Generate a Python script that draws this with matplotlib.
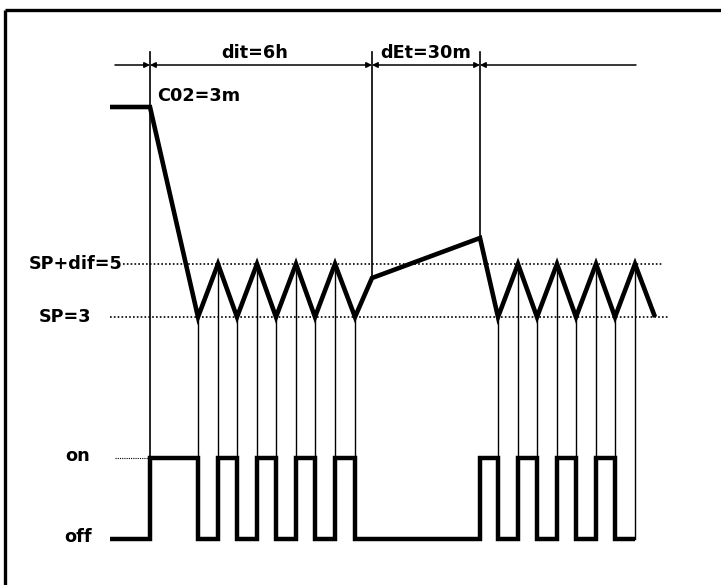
import matplotlib
matplotlib.use("Agg")
import matplotlib.pyplot as plt

# ---- data (schematic, in picture units: x = time position, y = level position) ----
# temperature trace vertices
temp_x = [110, 150, 198, 218, 237, 257, 276, 296, 315, 335, 355, 372, 480, 498, 518, 537, 557, 576, 596, 615, 635, 655]
temp_y = [107, 107, 317, 264, 317, 264, 317, 264, 317, 264, 317, 278, 238, 317, 264, 317, 264, 317, 264, 317, 264, 317]

# compressor state: switching times and states (1 = on, 0 = off)
switch_x = [110, 150, 198, 218, 237, 257, 276, 296, 315, 335, 355, 480, 498, 518, 537, 557, 576, 596, 615, 635]
switch_state = [0, 1, 0, 1, 0, 1, 0, 1, 0, 1, 0, 1, 0, 1, 0, 1, 0, 1, 0, 0]
y_on, y_off = 458, 539

# reference levels
y_spdif, y_sp = 264, 317
spdif_span = (123, 663)
sp_span = (110, 668)

# timing markers
marker_x = [150, 372, 480]
marker_top = 52
dim_y = 65
dim_start, dim_end = 115, 636

labels_dim = ["dit=6h", "dEt=30m"]
label_c02 = "C02=3m"
label_spdif = "SP+dif=5"
label_sp = "SP=3"
label_on, label_off = "on", "off"

# ---- figure ----
W, H = 721, 585
fig = plt.figure(figsize=(W / 100, H / 100), dpi=100)
ax = fig.add_axes([0, 0, 1, 1])
ax.set_xlim(0, W)
ax.set_ylim(H, 0)
ax.axis("off")

font = dict(family="DejaVu Sans", fontweight="bold", fontsize=12.7, color="black")

# frame (top and left edges)
ax.plot([5, W], [10, 10], color="black", lw=2.4, solid_capstyle="butt")
ax.plot([5, 5], [10, H], color="black", lw=2.4, solid_capstyle="butt")

# dotted reference lines
dot = dict(color="black", lw=1.2, dashes=(1, 1.3))
ax.plot(spdif_span, [y_spdif, y_spdif], **dot)
ax.plot(sp_span, [y_sp, y_sp], **dot)
ax.plot([115, switch_x[1]], [y_on, y_on], color="black", lw=0.8, dashes=(1, 1))

# vertical marker lines
ax.plot([marker_x[0], marker_x[0]], [marker_top, y_on], color="black", lw=1.2)
ax.plot([marker_x[1], marker_x[1]], [marker_top, temp_y[temp_x.index(marker_x[1])]], color="black", lw=1.2)
ax.plot([marker_x[2], marker_x[2]], [marker_top, temp_y[temp_x.index(marker_x[2])]], color="black", lw=1.2)

# thin links from temperature vertices down to the on/off trace
for xv, yv in zip(temp_x[2:], temp_y[2:]):
    if xv in (marker_x[1], marker_x[2]) or xv == temp_x[-1]:
        continue
    bottom = y_off if xv == switch_x[-1] else y_on
    ax.plot([xv, xv], [yv, bottom], color="black", lw=1.0)

# dimension line with arrows
ap = dict(color="black", lw=1.1, shrinkA=0, shrinkB=0, mutation_scale=8)
ax.annotate("", xy=(marker_x[0], dim_y), xytext=(dim_start, dim_y), arrowprops=dict(arrowstyle="-|>", **ap))
ax.annotate("", xy=(marker_x[1], dim_y), xytext=(marker_x[0], dim_y), arrowprops=dict(arrowstyle="<|-|>", **ap))
ax.annotate("", xy=(marker_x[2], dim_y), xytext=(marker_x[1], dim_y), arrowprops=dict(arrowstyle="<|-|>", **ap))
ax.annotate("", xy=(dim_end, dim_y), xytext=(marker_x[2], dim_y), arrowprops=dict(arrowstyle="<|-", **ap))

# temperature trace
ax.plot(temp_x, temp_y, color="black", lw=3.3, solid_joinstyle="miter", solid_capstyle="butt")

# compressor trace (step)
sx, sy = [], []
for i, (xv, st) in enumerate(zip(switch_x, switch_state)):
    yv = y_on if st else y_off
    if i > 0:
        sx.append(xv)
        sy.append(sy[-1])
    sx.append(xv)
    sy.append(yv)
ax.plot(sx, sy, color="black", lw=3.2, solid_joinstyle="miter", solid_capstyle="butt")

# texts
ax.text(255, 53, labels_dim[0], ha="center", va="center", **font)
ax.text(426, 53, labels_dim[1], ha="center", va="center", **font)
ax.text(157, 96, label_c02, ha="left", va="center", **font)
ax.text(123, y_spdif, label_spdif, ha="right", va="center", **font)
ax.text(65, y_sp, label_sp, ha="center", va="center", **font)
ax.text(78, y_on - 2, label_on, ha="center", va="center", **font)
ax.text(78, y_off - 2, label_off, ha="center", va="center", **font)

fig.savefig("out.png", dpi=100)
